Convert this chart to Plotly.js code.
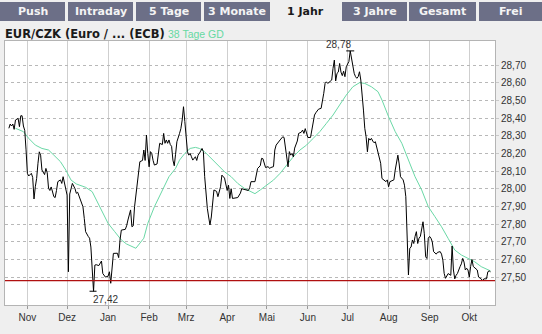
<!DOCTYPE html>
<html><head><meta charset="utf-8">
<script src="https://cdn.plot.ly/plotly-3.0.1.min.js"></script>
<style>html,body{margin:0;padding:0;background:#efefef;overflow:hidden}#chart{width:542px;height:334px}</style>
</head><body><div id="chart"></div>
<script>
// ---------- data ----------
const dates = [
'2006-10-18','2006-10-19','2006-10-20','2006-10-21','2006-10-22','2006-10-23','2006-10-25','2006-10-26','2006-10-27','2006-10-28','2006-10-29','2006-10-30','2006-10-31',
'2006-11-01','2006-11-02','2006-11-04','2006-11-05','2006-11-06','2006-11-07','2006-11-08','2006-11-09','2006-11-10','2006-11-11','2006-11-12','2006-11-14','2006-11-15','2006-11-16','2006-11-17','2006-11-18','2006-11-19','2006-11-21','2006-11-22','2006-11-23','2006-11-24','2006-11-26','2006-11-27','2006-11-28','2006-11-30',
'2006-12-01','2006-12-02','2006-12-03','2006-12-04','2006-12-05','2006-12-07','2006-12-08','2006-12-09','2006-12-11','2006-12-13','2006-12-14','2006-12-15','2006-12-17','2006-12-18','2006-12-19','2006-12-20','2006-12-21','2006-12-22','2006-12-23','2006-12-25','2006-12-27','2006-12-28','2006-12-30',
'2007-01-01','2007-01-02','2007-01-03','2007-01-04','2007-01-05','2007-01-08','2007-01-09','2007-01-10','2007-01-11','2007-01-14','2007-01-15','2007-01-16','2007-01-18','2007-01-19','2007-01-20','2007-01-21','2007-01-23','2007-01-24','2007-01-25','2007-01-27','2007-01-28','2007-01-29','2007-01-30','2007-01-31',
'2007-02-01','2007-02-02','2007-02-03','2007-02-04','2007-02-05','2007-02-07','2007-02-08','2007-02-09','2007-02-11','2007-02-12','2007-02-13','2007-02-14','2007-02-15','2007-02-16','2007-02-17','2007-02-18','2007-02-19','2007-02-20','2007-02-21','2007-02-22','2007-02-24','2007-02-25','2007-02-26','2007-02-27','2007-02-28',
'2007-03-01','2007-03-02','2007-03-03','2007-03-04','2007-03-05','2007-03-06','2007-03-08','2007-03-09','2007-03-10','2007-03-11','2007-03-13','2007-03-14','2007-03-15','2007-03-16','2007-03-17','2007-03-18','2007-03-19','2007-03-20','2007-03-21','2007-03-22','2007-03-24','2007-03-25','2007-03-27','2007-03-28','2007-03-30',
'2007-04-01','2007-04-02','2007-04-03','2007-04-04','2007-04-05','2007-04-09','2007-04-11','2007-04-12','2007-04-16','2007-04-17','2007-04-18','2007-04-19','2007-04-22','2007-04-23','2007-04-24','2007-04-26','2007-04-27','2007-04-28','2007-04-30',
'2007-05-02','2007-05-03','2007-05-04','2007-05-06','2007-05-07','2007-05-08','2007-05-11','2007-05-12','2007-05-13','2007-05-14','2007-05-15','2007-05-16','2007-05-17','2007-05-18','2007-05-19','2007-05-20','2007-05-21','2007-05-22','2007-05-24','2007-05-25','2007-05-27','2007-05-28','2007-05-29','2007-05-30','2007-05-31',
'2007-06-01','2007-06-03','2007-06-04','2007-06-05','2007-06-06','2007-06-07','2007-06-09','2007-06-11','2007-06-12','2007-06-13','2007-06-14','2007-06-15','2007-06-16','2007-06-19','2007-06-20','2007-06-21','2007-06-22','2007-06-23','2007-06-24','2007-06-25','2007-06-26','2007-06-27','2007-06-28','2007-06-29','2007-06-30',
'2007-07-01','2007-07-02','2007-07-03','2007-07-04','2007-07-05','2007-07-06','2007-07-07','2007-07-08','2007-07-09','2007-07-10','2007-07-11','2007-07-12','2007-07-13','2007-07-14','2007-07-15','2007-07-16','2007-07-17','2007-07-18','2007-07-19','2007-07-20','2007-07-21','2007-07-22','2007-07-24','2007-07-26','2007-07-27','2007-07-30','2007-07-31',
'2007-08-01','2007-08-02','2007-08-05','2007-08-06','2007-08-07','2007-08-08','2007-08-09','2007-08-10','2007-08-12','2007-08-13','2007-08-14','2007-08-15','2007-08-16','2007-08-17','2007-08-18','2007-08-19','2007-08-20','2007-08-21','2007-08-22','2007-08-23','2007-08-24','2007-08-25','2007-08-26','2007-08-27','2007-08-28','2007-08-29','2007-08-30','2007-08-31',
'2007-09-01','2007-09-02','2007-09-03','2007-09-04','2007-09-06','2007-09-07','2007-09-09','2007-09-10','2007-09-11','2007-09-12','2007-09-13','2007-09-15','2007-09-17','2007-09-18','2007-09-19','2007-09-20','2007-09-21','2007-09-22','2007-09-24','2007-09-25','2007-09-26','2007-09-27','2007-09-28','2007-09-29','2007-09-30',
'2007-10-01','2007-10-02','2007-10-03','2007-10-04','2007-10-06','2007-10-07','2007-10-08','2007-10-10','2007-10-11','2007-10-12','2007-10-14','2007-10-15','2007-10-16','2007-10-17'
];
const prices = [
28.342,28.366,28.355,28.366,28.336,28.389,28.398,28.351,28.413,28.413,28.355,28.33,28.22,
28.087,28.072,28.087,28.064,27.942,28.011,28.058,28.144,28.209,28.19,28.106,28.08,28.115,28.09,28.002,27.99,28.01,27.955,27.95,27.99,28.04,28.05,28.03,28.068,28.0,
27.964,27.53,27.97,28.0,28.03,28.0,27.974,27.98,27.936,27.898,27.832,27.757,27.73,27.72,27.67,27.559,27.42,27.568,27.57,27.565,27.591,27.52,27.50,
27.505,27.53,27.465,27.57,27.634,27.635,27.61,27.71,27.766,27.77,27.79,27.823,27.88,27.785,27.79,27.898,28.03,28.124,28.153,28.16,28.219,28.16,28.304,28.2,
28.124,28.21,28.2,28.16,28.134,28.14,28.21,28.257,28.25,28.313,28.257,28.276,28.257,28.276,28.25,28.24,28.162,28.13,28.195,28.266,28.313,28.34,28.389,28.464,28.38,
28.294,28.209,28.19,28.2,28.181,28.162,28.181,28.16,28.19,28.20,28.228,28.21,28.068,27.955,27.889,27.84,27.795,27.84,27.917,27.993,27.985,27.955,28.011,28.077,28.06,
27.99,28.02,27.945,28.0,27.945,27.95,27.975,28.0,27.99,27.99,28.005,28.04,28.04,28.078,28.115,28.13,28.172,28.17,28.12,
28.125,28.115,28.12,28.125,28.219,28.247,28.276,28.285,28.294,28.29,28.24,28.181,28.124,28.21,28.19,28.2,28.18,28.23,28.27,28.313,28.32,28.332,28.313,28.34,28.32,
28.29,28.29,28.33,28.37,28.417,28.43,28.45,28.455,28.492,28.54,28.596,28.605,28.596,28.615,28.681,28.728,28.61,28.653,28.66,28.709,28.66,28.64,28.665,28.634,28.69,
28.71,28.72,28.78,28.728,28.70,28.653,28.634,28.625,28.634,28.662,28.615,28.54,28.445,28.342,28.294,28.209,28.285,28.275,28.285,28.27,28.26,28.266,28.209,28.144,28.058,28.04,28.05,
28.011,28.04,28.05,28.106,28.162,28.19,28.14,28.068,28.05,28.02,27.955,27.738,27.512,27.663,27.67,27.71,27.69,27.73,27.757,27.69,27.72,27.73,27.785,27.813,27.745,27.615,27.605,27.72,
27.73,27.72,27.70,27.644,27.63,27.64,27.644,27.63,27.596,27.521,27.493,27.52,27.51,27.676,27.54,27.49,27.51,27.52,27.559,27.575,27.606,27.585,27.54,27.55,27.54,
27.50,27.56,27.60,27.56,27.55,27.54,27.50,27.49,27.478,27.49,27.49,27.53,27.535,27.53
];
const maDates = [
'2006-10-23','2006-10-29','2006-11-02','2006-11-07','2006-11-12','2006-11-17','2006-11-21','2006-11-26','2006-11-30',
'2006-12-04','2006-12-08','2006-12-15','2006-12-20','2006-12-23','2006-12-27',
'2007-01-01','2007-01-06','2007-01-11','2007-01-15','2007-01-22','2007-01-28','2007-01-31',
'2007-02-05','2007-02-11','2007-02-16','2007-02-21','2007-02-24','2007-02-28',
'2007-03-04','2007-03-08','2007-03-11','2007-03-15','2007-03-20','2007-03-25','2007-03-30',
'2007-04-04','2007-04-09','2007-04-14','2007-04-20','2007-04-22','2007-04-26',
'2007-05-01','2007-05-06','2007-05-11','2007-05-16','2007-05-21','2007-05-26','2007-05-31',
'2007-06-05','2007-06-10','2007-06-15','2007-06-20','2007-06-25','2007-06-30',
'2007-07-05','2007-07-10','2007-07-14','2007-07-19','2007-07-24','2007-07-27',
'2007-08-01','2007-08-06','2007-08-11','2007-08-16','2007-08-21','2007-08-26','2007-08-31',
'2007-09-05','2007-09-10','2007-09-15','2007-09-20','2007-09-25','2007-09-30',
'2007-10-05','2007-10-10','2007-10-15','2007-10-17'
];
const maValues = [
28.342,28.323,28.285,28.247,28.228,28.219,28.19,28.153,28.106,
28.049,28.027,28.008,27.983,27.936,27.879,
27.804,27.757,27.71,27.687,27.663,27.72,27.804,
27.898,27.993,28.068,28.115,28.162,28.2,
28.228,28.234,28.228,28.209,28.172,28.134,28.096,
28.068,28.03,28.002,27.978,27.972,27.993,
28.021,28.049,28.087,28.134,28.181,28.219,28.247,
28.285,28.323,28.37,28.417,28.474,28.53,
28.577,28.60,28.596,28.577,28.549,28.502,
28.407,28.323,28.257,28.162,28.068,27.993,27.898,
27.842,27.785,27.719,27.653,27.625,27.606,
27.587,27.559,27.54,27.535
];
const monthTicks = ['2006-11-01','2006-12-01','2007-01-01','2007-02-01','2007-03-01','2007-04-01','2007-05-01','2007-06-01','2007-07-01','2007-08-01','2007-09-01','2007-10-01'];
const monthLabels = ['Nov','Dez','Jan','Feb','Mrz','Apr','Mai','Jun','Jul','Aug','Sep','Okt'];
const yTicks = [27.5,27.6,27.7,27.8,27.9,28.0,28.1,28.2,28.3,28.4,28.5,28.6,28.7];
const tabs = ['Push','Intraday','5 Tage','3 Monate','1 Jahr','3 Jahre','Gesamt','Frei'];
const activeTab = '1 Jahr';
const chartTitle = 'EUR/CZK (Euro / ... (ECB)';
const maLabel = '38 Tage GD';
const refLevel = 27.48;
const highDate = '2007-07-03', highValue = 28.78;
const lowDate = '2006-12-21', lowValue = 27.42;

// ---------- layout helpers (pixel geometry) ----------
const W = 542, H = 334, L = 5, R = 495, T = 41, B = 305;
const px2x = p => (p - L) / (R - L);
const px2y = p => (B - p) / (B - T);
const tabSpans = [[0,65],[68,133],[136,201],[204,270],[271,340],[342,407],[409,476],[479,542]];
const fmt = v => v.toFixed(2).replace('.', ',');

const shapes = [];
const annotations = [];
tabs.forEach((t, i) => {
  const [a, b] = tabSpans[i];
  const active = t === activeTab;
  shapes.push({type:'rect', xref:'paper', yref:'paper', x0:px2x(a), x1:px2x(b), y0:px2y(21), y1:px2y(2),
    fillcolor: active ? '#efefef' : '#6c6f87', line:{width:0}, layer:'below'});
  annotations.push({xref:'paper', yref:'paper', x:px2x((a+b)/2), y:px2y(11.5), text:'<b>'+t+'</b>', showarrow:false,
    xanchor:'center', yanchor:'middle', font:{family:'DejaVu Sans', size:11, color: active ? '#1a1a1a' : '#f4f4f4'}});
});
annotations.push({xref:'paper', yref:'paper', x:px2x(3), y:px2y(34.5), text:'<b>'+chartTitle+'</b>', showarrow:false,
  xanchor:'left', yanchor:'middle', font:{family:'DejaVu Sans', size:11.5, color:'#1a1a1a'}});
annotations.push({xref:'paper', yref:'paper', x:px2x(166), y:px2y(34.5), text:maLabel, showarrow:false,
  xanchor:'left', yanchor:'middle', font:{family:'Liberation Sans', size:10.5, color:'#66d9a2'}});
// high / low markers
shapes.push({type:'line', xref:'x', yref:'y', xsizemode:'pixel', xanchor:highDate, x0:-4, x1:4, y0:highValue, y1:highValue, line:{color:'#000', width:1}});
shapes.push({type:'line', xref:'x', yref:'y', xsizemode:'pixel', xanchor:lowDate, x0:-4, x1:3, y0:lowValue, y1:lowValue, line:{color:'#000', width:1}});
annotations.push({xref:'x', yref:'y', x:highDate, y:highValue, text:fmt(highValue), showarrow:false, xanchor:'center', yanchor:'bottom', xshift:-12, yshift:-1,
  font:{family:'Liberation Sans', size:10, color:'#333'}});
annotations.push({xref:'x', yref:'y', x:lowDate, y:lowValue, text:fmt(lowValue), showarrow:false, xanchor:'center', yanchor:'top', xshift:12, yshift:-1,
  font:{family:'Liberation Sans', size:10, color:'#333'}});
// reference line
shapes.push({type:'line', xref:'paper', yref:'y', x0:0, x1:1, y0:refLevel, y1:refLevel, line:{color:'#b01010', width:1.2}});

const traces = [
  {x: maDates, y: maValues, type:'scatter', mode:'lines', line:{color:'#6ad8a6', width:1}, hoverinfo:'skip'},
  {x: dates, y: prices, type:'scatter', mode:'lines', line:{color:'#000000', width:1}, hoverinfo:'skip'}
];

const layout = {
  width: W, height: H,
  margin: {l: L, r: W - R, t: T, b: H - B, pad: 0},
  paper_bgcolor: '#efefef', plot_bgcolor: '#ffffff',
  showlegend: false,
  separators: ',.',
  xaxis: {type:'date', range:['2006-10-15 02:00','2007-10-20 10:00'], tickmode:'array', tickvals: monthTicks, ticktext: monthLabels,
    showgrid:true, gridcolor:'#cfcfcf', gridwidth:1, zeroline:false, showline:true, mirror:true, linecolor:'#b4b4b4', linewidth:1,
    ticks:'outside', ticklen:3, tickcolor:'#999', tickfont:{family:'Liberation Sans', size:10, color:'#333'}, fixedrange:true},
  yaxis: {side:'right', range:[27.342, 28.836], tickmode:'array', tickvals: yTicks, tickformat:'.2f',
    showgrid:true, gridcolor:'#b8b8b8', griddash:'dot', gridwidth:1, zeroline:false, showline:true, mirror:true, linecolor:'#b4b4b4', linewidth:1,
    ticks:'outside', ticklen:3, tickcolor:'#c8c8c8', tickfont:{family:'Liberation Sans', size:10, color:'#333'}, fixedrange:true},
  shapes: shapes,
  annotations: annotations
};
Plotly.newPlot('chart', traces, layout, {staticPlot:true, displayModeBar:false});
</script>
</body></html>
